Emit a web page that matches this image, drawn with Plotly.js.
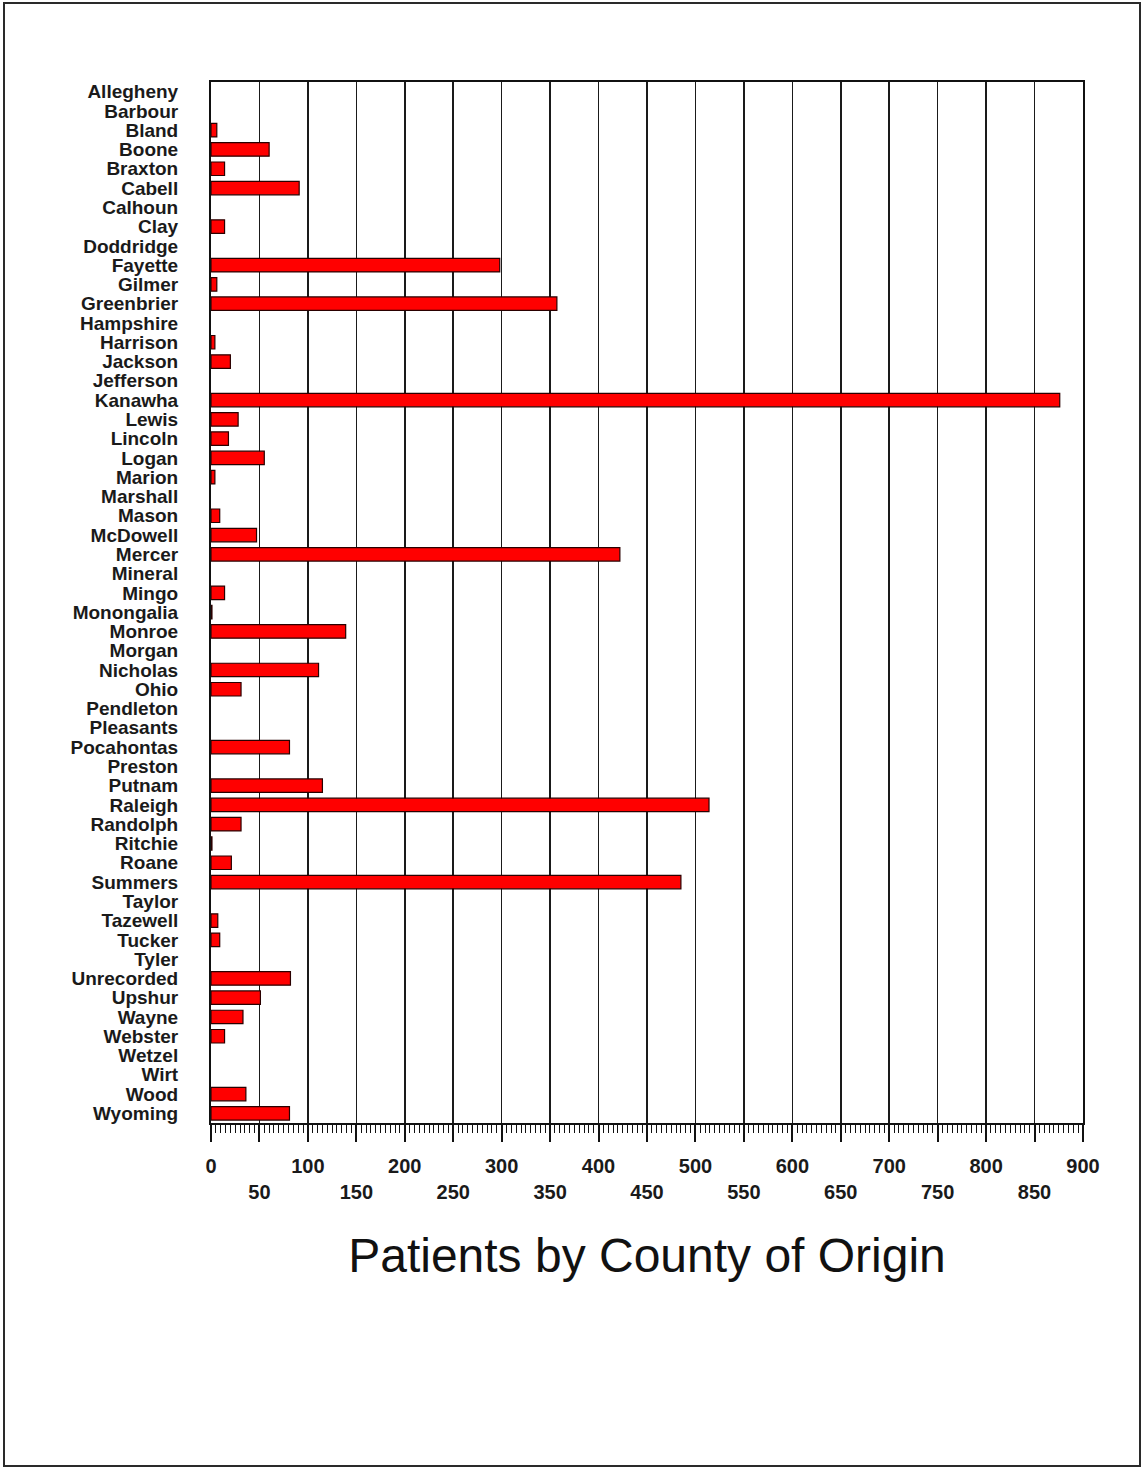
<!DOCTYPE html>
<html>
<head>
<meta charset="utf-8">
<script src="https://cdn.plot.ly/plotly-3.0.1.min.js"></script>
<style>
  html, body { margin: 0; padding: 0; background: #fff; }
  #wrap { position: relative; width: 1143px; height: 1468px; }
  #chart { position: absolute; left: 0; top: 0; width: 1143px; height: 1468px; }
  #frame { position: absolute; left: 3px; top: 2px; width: 1134px; height: 1461px;
           border: 2px solid #2a2a2a; pointer-events: none; }
</style>
</head>
<body>
<div id="wrap">
  <div id="chart"></div>
  <div id="frame"></div>
</div>
<script>
const counties = ["Allegheny","Barbour","Bland","Boone","Braxton","Cabell","Calhoun","Clay","Doddridge","Fayette",
  "Gilmer","Greenbrier","Hampshire","Harrison","Jackson","Jefferson","Kanawha","Lewis","Lincoln","Logan",
  "Marion","Marshall","Mason","McDowell","Mercer","Mineral","Mingo","Monongalia","Monroe","Morgan",
  "Nicholas","Ohio","Pendleton","Pleasants","Pocahontas","Preston","Putnam","Raleigh","Randolph","Ritchie",
  "Roane","Summers","Taylor","Tazewell","Tucker","Tyler","Unrecorded","Upshur","Wayne","Webster",
  "Wetzel","Wirt","Wood","Wyoming"];
const patients = [0,0,6,60,14,91,0,14,0,298,
  6,357,0,4,20,0,876,28,18,55,
  4,0,9,47,422,0,14,1,139,0,
  111,31,0,0,81,0,115,514,31,1,
  21,485,0,7,9,0,82,51,33,14,
  0,0,36,81];
const tickValues = [0,50,100,150,200,250,300,350,400,450,500,550,600,650,700,750,800,850,900];
const tickLabels = ["0","<br>50","100","<br>150","200","<br>250","300","<br>350","400","<br>450","500",
  "<br>550","600","<br>650","700","<br>750","800","<br>850","900"];
const chartTitle = "Patients by County of Origin";

const trace = {
  type: 'bar',
  orientation: 'h',
  y: counties,
  x: patients,
  marker: { color: '#ff0000', line: { color: '#2a0000', width: patients.map(v => v > 0 ? 1.2 : 0) } },
  hoverinfo: 'x+y'
};

const layout = {
  width: 1143,
  height: 1468,
  margin: { l: 211, r: 60, t: 82, b: 345 },
  paper_bgcolor: '#ffffff',
  plot_bgcolor: '#ffffff',
  showlegend: false,
  bargap: 0.3,
  title: {
    text: chartTitle,
    font: { family: 'Liberation Sans, Arial, sans-serif', size: 48, color: '#111' },
    xref: 'paper', x: 0.5, xanchor: 'center',
    yref: 'container', y: 1 - 1255/1468, yanchor: 'middle'
  },
  xaxis: {
    range: [0, 900],
    tickmode: 'array',
    tickvals: tickValues,
    ticktext: tickLabels,
    ticks: 'outside',
    ticklen: 17,
    tickwidth: 2,
    tickcolor: '#111',
    showgrid: true,
    gridcolor: '#1a1a1a',
    gridwidth: 1.5,
    zeroline: false,
    showline: true,
    linecolor: '#111',
    linewidth: 2,
    mirror: true,
    ticklabelstandoff: 7,
    tickfont: { family: 'Liberation Sans, Arial, sans-serif', size: 20, color: '#1a1a1a', weight: 'bold' },
    minor: { tickmode: 'linear', tick0: 0, dtick: 5, ticks: 'outside', ticklen: 8, tickwidth: 1, tickcolor: '#111', showgrid: false }
  },
  yaxis: {
    type: 'category',
    categoryorder: 'array',
    categoryarray: counties,
    tickmode: 'array',
    tickvals: counties,
    ticktext: counties,
    range: [counties.length - 0.5, -0.5],
    showgrid: false,
    zeroline: false,
    showline: true,
    linecolor: '#111',
    linewidth: 2,
    mirror: true,
    ticks: '',
    ticklabelstandoff: 27,
    tickfont: { family: 'Liberation Sans, Arial, sans-serif', size: 19, color: '#1a1a1a', weight: 'bold' }
  }
};

Plotly.newPlot('chart', [trace], layout, { displayModeBar: false, staticPlot: true });
</script>
</body>
</html>
